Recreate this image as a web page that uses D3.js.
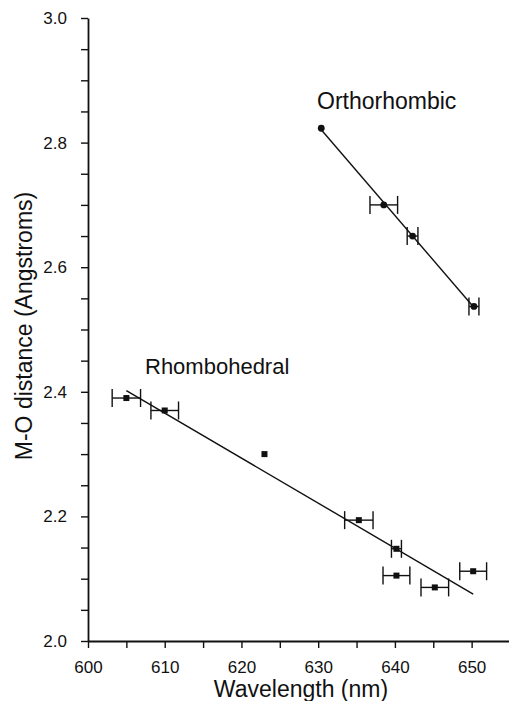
<!DOCTYPE html>
<html>
<head>
<meta charset="utf-8">
<script src="https://cdn.jsdelivr.net/npm/d3@7"></script>
<style>
  html, body { margin: 0; padding: 0; background: #fff; }
  svg { display: block; }
  text { font-family: "Liberation Sans", Arial, Helvetica, sans-serif; fill: #111; }
</style>
</head>
<body>
<svg id="chart" width="509" height="701"></svg>
<script>
// Rhombohedral phase: wavelength (nm), M-O distance (Å), wavelength uncertainty (nm)
const rhombWavelength = [605.0, 610.0, 623.0, 635.3, 640.2, 640.2, 645.2, 650.2];
const rhombDistance   = [2.390, 2.370, 2.300, 2.194, 2.148, 2.105, 2.086, 2.112];
const rhombError      = [1.85, 1.8, 0, 1.85, 0.65, 1.75, 1.8, 1.75];

// Orthorhombic phase
const orthoWavelength = [630.4, 638.55, 642.3, 650.3];
const orthoDistance   = [2.823, 2.700, 2.650, 2.537];
const orthoError      = [0, 1.8, 0.7, 0.65];

const xTicks = [600, 610, 620, 630, 640, 650];
const yTicks = [2.0, 2.2, 2.4, 2.6, 2.8, 3.0];

const svg = d3.select("#chart");
const x = d3.scaleLinear().domain([600, 655]).range([88, 510]);
const y = d3.scaleLinear().domain([2.0, 3.0]).range([641, 18]);

const toPoints = (xs, ys, es) => xs.map((v, i) => ({ x: v, y: ys[i], e: es[i] }));
const rhomb = toPoints(rhombWavelength, rhombDistance, rhombError);
const ortho = toPoints(orthoWavelength, orthoDistance, orthoError);

// least-squares fit across the measured wavelength span
function fit(pts) {
  const mx = d3.mean(pts, d => d.x), my = d3.mean(pts, d => d.y);
  const sxy = d3.sum(pts, d => (d.x - mx) * (d.y - my));
  const sxx = d3.sum(pts, d => (d.x - mx) ** 2);
  const b = sxy / sxx, a = my - b * mx;
  const [x0, x1] = d3.extent(pts, d => d.x);
  return [{ x: x0, y: a + b * x0 }, { x: x1, y: a + b * x1 }];
}

const line = d3.line().x(d => x(d.x)).y(d => y(d.y));

// axes: minor ticks every 5 nm / 0.05 Å, labels on the majors
const xAxis = d3.axisBottom(x)
  .tickValues(d3.range(600, 656, 5))
  .tickSize(7).tickSizeOuter(0).tickPadding(13)
  .tickFormat(v => xTicks.includes(v) ? d3.format("d")(v) : "");
const yAxis = d3.axisLeft(y)
  .tickValues(d3.range(0, 21).map(i => 2 + i * 0.05))
  .tickSize(7).tickSizeOuter(0).tickPadding(14)
  .tickFormat(v => yTicks.some(t => Math.abs(t - v) < 1e-9) ? d3.format(".1f")(v) : "");

const gx = svg.append("g").attr("transform", `translate(0,${y(2.0)})`).call(xAxis);
const gy = svg.append("g").attr("transform", `translate(${x(600)},0)`).call(yAxis);
[gx, gy].forEach(g => {
  g.select(".domain").attr("stroke", "#111").attr("stroke-width", 1.8);
  g.selectAll(".tick line").attr("stroke", "#111").attr("stroke-width", 1.4);
  g.selectAll(".tick text").attr("font-size", 17).attr("fill", "#111")
    .attr("font-family", "Liberation Sans, Arial, sans-serif");
});

// axis titles
svg.append("text")
  .attr("x", 301).attr("y", 697)
  .attr("text-anchor", "middle").attr("font-size", 23)
  .text("Wavelength (nm)");
svg.append("text")
  .attr("transform", "translate(32,326) rotate(-90)")
  .attr("text-anchor", "middle").attr("font-size", 23)
  .text("M-O distance (Angstroms)");

// fit lines
[rhomb, ortho].forEach(pts => {
  svg.append("path").datum(fit(pts))
    .attr("d", line).attr("fill", "none")
    .attr("stroke", "#111").attr("stroke-width", 1.4);
});

// horizontal error bars with end caps
function errorBars(pts) {
  const g = svg.append("g").attr("stroke", "#111").attr("stroke-width", 1.4);
  pts.filter(d => d.e > 0).forEach(d => {
    const cy = y(d.y), xl = x(d.x - d.e), xr = x(d.x + d.e);
    g.append("line").attr("x1", xl).attr("x2", xr).attr("y1", cy).attr("y2", cy);
    g.append("line").attr("x1", xl).attr("x2", xl).attr("y1", cy - 9).attr("y2", cy + 9);
    g.append("line").attr("x1", xr).attr("x2", xr).attr("y1", cy - 9).attr("y2", cy + 9);
  });
}
errorBars(rhomb);
errorBars(ortho);

// markers
svg.append("g").selectAll("rect").data(rhomb).join("rect")
  .attr("x", d => x(d.x) - 3).attr("y", d => y(d.y) - 3)
  .attr("width", 6).attr("height", 6).attr("fill", "#111");
svg.append("g").selectAll("circle").data(ortho).join("circle")
  .attr("cx", d => x(d.x)).attr("cy", d => y(d.y))
  .attr("r", 3.4).attr("fill", "#111");

// phase labels
svg.append("text").attr("x", 145).attr("y", 374)
  .attr("font-size", 22).text("Rhombohedral");
svg.append("text").attr("x", 317).attr("y", 109)
  .attr("font-size", 23).text("Orthorhombic");
</script>
</body>
</html>
